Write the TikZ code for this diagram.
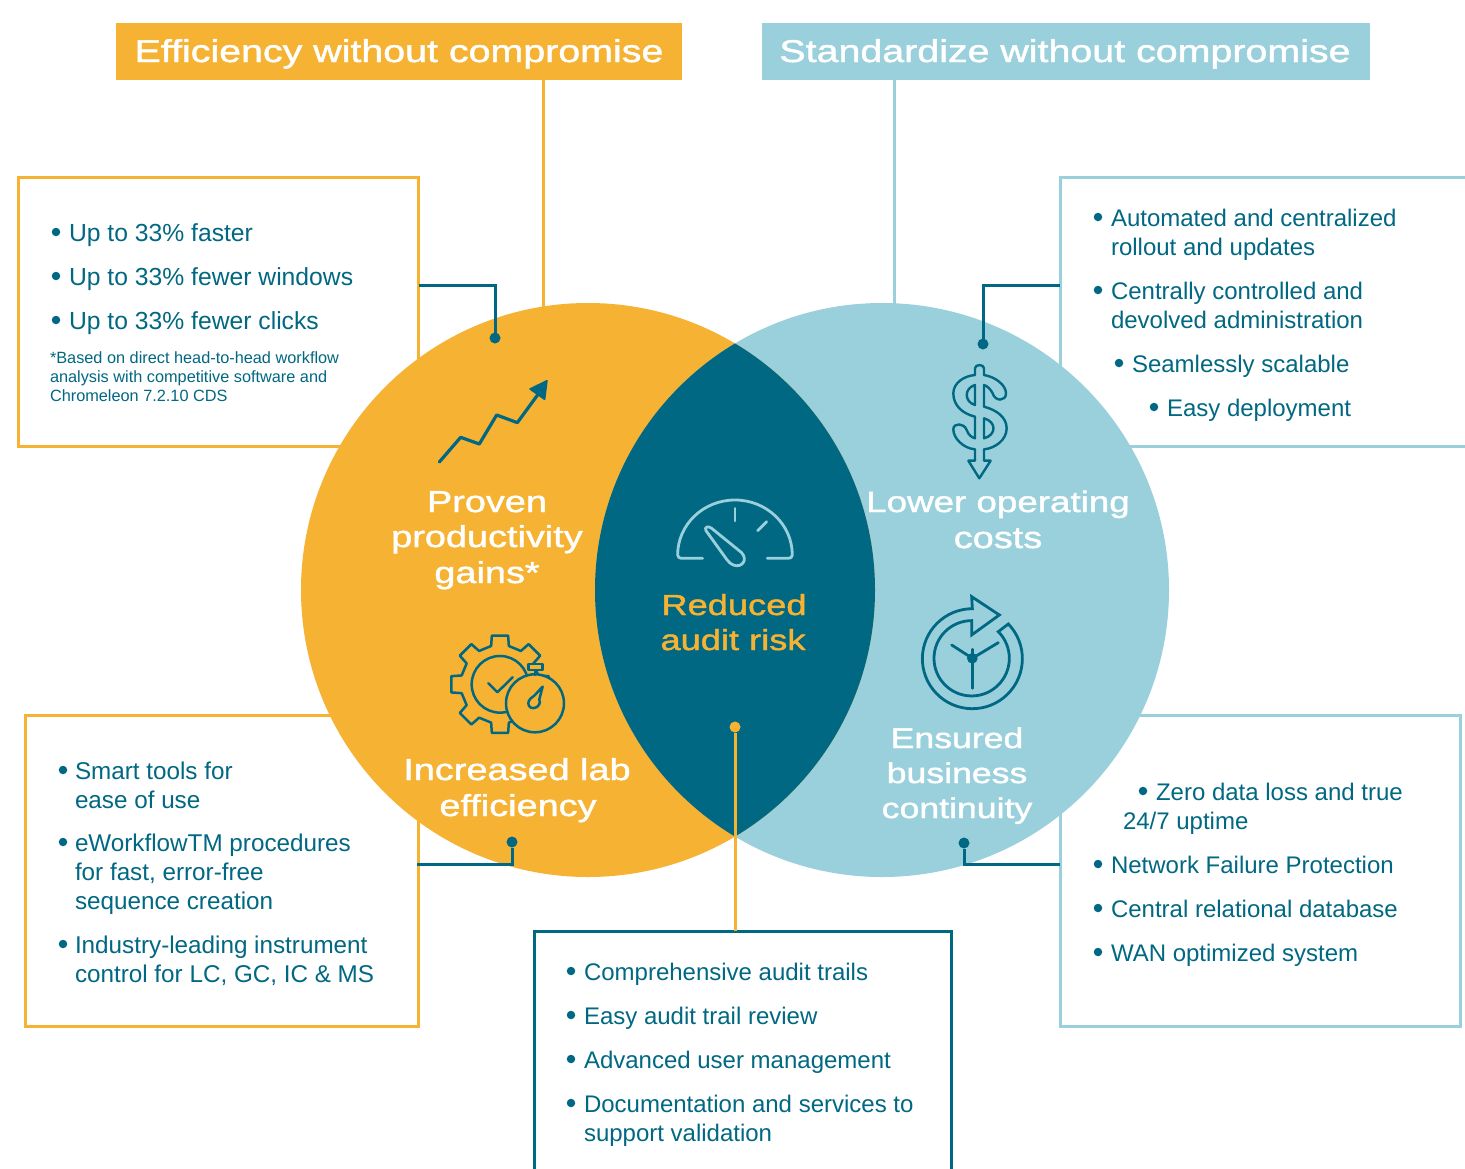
\documentclass[tikz,border=0pt]{standalone}
\usepackage{fontspec}
\setmainfont{Liberation Sans}
\newfontfamily\headfont[FakeStretch=1.25,FakeBold=1.5]{Liberation Sans}
\definecolor{org}{HTML}{F6B233}
\definecolor{lblue}{HTML}{9AD0DC}
\definecolor{teal}{HTML}{006882}
\tikzset{
 obox/.style={draw=org,line width=3pt,fill=white,anchor=north west,inner sep=0,outer sep=0},
 bbox/.style={draw=lblue,line width=3pt,fill=white,anchor=north west,inner sep=0,outer sep=0},
 tbox/.style={draw=teal,line width=3pt,fill=white,anchor=north west,inner sep=0,outer sep=0},
 hdr/.style={anchor=north west,inner sep=0,outer sep=0},
 hdrtext/.style={text=white,font=\headfont\fontsize{31.5}{36}\selectfont,anchor=base,inner sep=0},
 item/.style={text=teal,font=\fontsize{24}{29}\selectfont,anchor=base west,inner sep=0,outer sep=0},
 itemw/.style={item,font=\fontsize{24.7}{29}\selectfont},
 itemv/.style={item,font=\fontsize{24.25}{29}\selectfont},
 note/.style={text=teal,font=\fontsize{16.3}{19}\selectfont,anchor=base west,inner sep=0,outer sep=0},
 bdot/.style={circle,fill=teal,minimum size=8.5pt,inner sep=0,outer sep=0},
 cdot/.style={circle,fill=teal,minimum size=11pt,inner sep=0,outer sep=0},
 odot/.style={circle,fill=org,minimum size=11pt,inner sep=0,outer sep=0},
 conn/.style={draw=teal,line width=3pt},
 oconn/.style={draw=org,line width=3pt},
 bconn/.style={draw=lblue,line width=3pt},
 vlabel/.style={font=\headfont\fontsize{30.3}{36}\selectfont,text=white,anchor=base,inner sep=0},
 vlabels/.style={vlabel,font=\headfont\fontsize{28.5}{36}\selectfont},
 vlabelm/.style={vlabel,font=\headfont\fontsize{29.4}{36}\selectfont},
 rlabel/.style={font=\headfont\fontsize{29}{36}\selectfont,text=org,anchor=base,inner sep=0},
 icon/.style={draw=teal,line width=2.8pt,line join=round,line cap=round},
 gicon/.style={draw=lblue,line width=2.8pt,line join=round,line cap=round},
}
\begin{document}
\begin{tikzpicture}[x=1pt,y=-1pt]
\useasboundingbox (0,0) rectangle (1465,1168);
\clip (0,0) rectangle (1465,1168);
\fill[white] (0,0) rectangle (1465,1168);
% headers
\node[hdr,fill=org,minimum width=566pt,minimum height=57pt] (h1) at (116,23) {};
\node[hdr,fill=lblue,minimum width=608pt,minimum height=57pt] (h2) at (762,23) {};
\node[hdrtext] (h1t) at (399,62) {Efficiency without compromise};
\node[hdrtext] (h2t) at (1065,62) {Standardize without compromise};
\coordinate (h1c) at (543,80);
\coordinate (h2c) at (894,80);
\coordinate (h1e) at (543,320);
\coordinate (h2e) at (894,320);
\draw[oconn] (h1c) -- (h1e);
\draw[bconn] (h2c) -- (h2e);
% boxes
\node[obox,minimum width=400pt,minimum height=269pt] (tl) at (18,177) {};
\node[bbox,minimum width=420pt,minimum height=269pt] (tr) at (1060,177) {};
\node[obox,minimum width=393pt,minimum height=311pt] (bl) at (25,715) {};
\node[bbox,minimum width=400pt,minimum height=311pt] (br) at (1060,715) {};
\node[tbox,minimum width=417pt,minimum height=260pt] (bm) at (534,931) {};
% circles
\fill[org] (588,590) circle (287);
\fill[lblue] (882,590) circle (287);
\begin{scope}
\clip (882,590) circle (287);
\fill[org] (588,590) circle (287);
\end{scope}
\begin{scope}
\clip (588,590) circle (287);
\fill[teal] (882,590) circle (287);
\end{scope}
% top left list
\node[bdot] (a1) at (56,232) {}; \node[itemw] (a1t) at (69,241) {Up to 33\% faster};
\node[bdot] (a2) at (56,276) {}; \node[itemw] (a2t) at (69,285) {Up to 33\% fewer windows};
\node[bdot] (a3) at (56,320) {}; \node[itemw] (a3t) at (69,329) {Up to 33\% fewer clicks};
\node[note] (n1) at (50,363) {*Based on direct head-to-head workflow};
\node[note] (n2) at (50,382) {analysis with competitive software and};
\node[note] (n3) at (50,401) {Chromeleon 7.2.10 CDS};
% top right list
\node[bdot] (b1) at (1098,217) {}; \node[item] (b1t) at (1111,226) {Automated and centralized};
\node[item] (b1u) at (1111,255) {rollout and updates};
\node[bdot] (b2) at (1098,290) {}; \node[item] (b2t) at (1111,299) {Centrally controlled and};
\node[item] (b2u) at (1111,328) {devolved administration};
\node[bdot] (b3) at (1119,363) {}; \node[item] (b3t) at (1132,372) {Seamlessly scalable};
\node[bdot] (b4) at (1154,407) {}; \node[item] (b4t) at (1167,416) {Easy deployment};
% bottom left list
\node[bdot] (c1) at (63,770) {}; \node[itemv] (c1t) at (75,779) {Smart tools for};
\node[itemv] (c1u) at (75,808) {ease of use};
\node[bdot] (c2) at (63,842) {}; \node[itemv] (c2t) at (75,851) {eWorkflowTM procedures};
\node[itemv] (c2u) at (75,880) {for fast, error-free};
\node[itemv] (c2v) at (75,909) {sequence creation};
\node[bdot] (c3) at (63,944) {}; \node[itemv] (c3t) at (75,953) {Industry-leading instrument};
\node[itemv] (c3u) at (75,982) {control for LC, GC, IC \& MS};
% bottom right list
\node[bdot] (d1) at (1143,791) {}; \node[item] (d1t) at (1156,800) {Zero data loss and true};
\node[item] (d1u) at (1123,829) {24/7 uptime};
\node[bdot] (d2) at (1098,864) {}; \node[item] (d2t) at (1111,873) {Network Failure Protection};
\node[bdot] (d3) at (1098,908) {}; \node[item] (d3t) at (1111,917) {Central relational database};
\node[bdot] (d4) at (1098,952) {}; \node[item] (d4t) at (1111,961) {WAN optimized system};
% bottom middle list
\node[bdot] (e1) at (571,971) {}; \node[item] (e1t) at (584,980) {Comprehensive audit trails};
\node[bdot] (e2) at (571,1015) {}; \node[item] (e2t) at (584,1024) {Easy audit trail review};
\node[bdot] (e3) at (571,1059) {}; \node[item] (e3t) at (584,1068) {Advanced user management};
\node[bdot] (e4) at (571,1103) {}; \node[item] (e4t) at (584,1112) {Documentation and services to};
\node[item] (e4u) at (584,1141) {support validation};
% connectors
\coordinate (ctl) at (419,285);
\node[cdot] (dtl) at (495,338) {};
\draw[conn] (ctl) -| (dtl);
\coordinate (ctr) at (1060,285);
\node[cdot] (dtr) at (983,344) {};
\draw[conn] (ctr) -| (dtr);
\coordinate (cbl) at (417,864);
\node[cdot] (dbl) at (512,842) {};
\draw[conn] (cbl) -| (dbl);
\coordinate (cbr) at (1060,864);
\node[cdot] (dbr) at (964,843) {};
\draw[conn] (cbr) -| (dbr);
\node[odot] (dm) at (735,727) {};
\draw[oconn] (dm) -- (bm.north -| dm);
% circle labels
\node[vlabel] (l1) at (487,512) {Proven};
\node[vlabel] (l2) at (487,547) {productivity};
\node[vlabel] (l3) at (487,583) {gains*};
\node[vlabelm] (l4) at (998,512) {Lower operating};
\node[vlabel] (l5) at (998,548) {costs};
\node[rlabel] (l6) at (734,615) {Reduced};
\node[rlabel] (l7) at (733,650) {audit risk};
\node[vlabel] (l8) at (517,780) {Increased lab};
\node[vlabel] (l9) at (518,816) {efficiency};
\node[vlabels] (l10) at (957,748) {Ensured};
\node[vlabels] (l11) at (957,783) {business};
\node[vlabels] (l12) at (957,818) {continuity};
% chart icon
\begin{scope}[shift={(420,360)},x=0.3333pt,y=-0.3333pt]
\draw[icon,line width=3.2pt] (58,306) -- (122,232) -- (178,252) -- (230,165) -- (292,188) -- (360,95);
\fill[teal,draw=teal,line width=1.5pt,line join=round] (381,62) -- (330,87) -- (374,118) -- cycle;
% gauge
\draw[gicon] (848,595) -- (790,595) .. controls (778,595) and (772,592) .. (773,585)
  arc[start angle=180,end angle=360,x radius=172,y radius=165] .. controls (1118,592) and (1112,595) .. (1100,595) -- (1042,595);
\draw[gicon] (945,445) -- (945,483);
\draw[gicon] (1040,485) -- (1013,512);
\draw[gicon] (858,512) .. controls (852,500) and (865,497) .. (875,505) -- (965,578)
  .. controls (985,600) and (965,625) .. (940,615) .. controls (930,610) and (925,605) .. (920,598) -- cycle;
% gear
\begin{scope}[shift={(240,973)}]
\draw[icon,line width=2.5pt] (-9.5-90:148)
  \foreach \a in {0,45,...,315}{
   -- ({\a-90-9.5}:148) -- ({\a-90+9.5}:148) -- ({\a-90+13}:118) -- ({\a-90+45-13}:118)
  } -- cycle;
\end{scope}
\draw[icon,line width=2.5pt] (240,973) circle (85);
\draw[icon,line width=2.5pt] (205,970) -- (232,997) -- (278,952);
\draw[icon,line width=2.5pt,fill=org] (345,1030) circle (87);
\draw[icon,line width=2.5pt,fill=org] (325,912) rectangle (368,930);
\draw[icon,line width=2.5pt] (345,930) -- (345,945);
\draw[icon,line width=2.5pt] (368,980) -- (358,1018) .. controls (368,1045) and (325,1055) .. (325,1030) .. controls (325,1020) and (335,1012) .. (342,1008) -- cycle;
\end{scope}
% dollar and clock icons
\begin{scope}[shift={(880,330)},x=0.3333pt,y=-0.3333pt]
\draw[icon,line width=2.4pt] (285,135) -- (285,115) .. controls (285,102) and (312,102) .. (312,115) -- (312,135)
  .. controls (345,140) and (378,165) .. (378,190) .. controls (378,215) and (345,215) .. (338,190)
  .. controls (332,178) and (322,168) .. (312,165) -- (312,230)
  .. controls (350,240) and (380,262) .. (380,295) .. controls (380,330) and (345,355) .. (312,358)
  -- (312,392) -- (332,392) -- (298,445) -- (265,392) -- (285,392) -- (285,358)
  .. controls (250,355) and (220,325) .. (220,298) .. controls (220,278) and (252,278) .. (260,300)
  .. controls (265,315) and (275,322) .. (285,325) -- (285,260)
  .. controls (245,250) and (220,225) .. (220,190) .. controls (220,160) and (250,138) .. (285,135) -- cycle;
\draw[icon,line width=2.4pt] (285,165) .. controls (252,175) and (252,215) .. (285,225) -- cycle;
\draw[icon,line width=2.4pt] (312,265) .. controls (350,275) and (350,315) .. (312,325) -- cycle;
% clock
\draw[icon,line width=2.8pt,line cap=butt,line join=miter]
  (385,882) arc[start angle=-44,end angle=270,radius=150] -- (275,800) -- (358,855) -- (275,915) -- (275,872)
  arc[start angle=270,end angle=-45,radius=113] -- cycle;
\fill[teal] (277,985) circle (16);
\draw[icon,line width=2.8pt] (215,945) -- (277,985) -- (355,938);
\draw[icon,line width=2.8pt] (277,958) -- (277,1075);
\end{scope}
\end{tikzpicture}
\end{document}
